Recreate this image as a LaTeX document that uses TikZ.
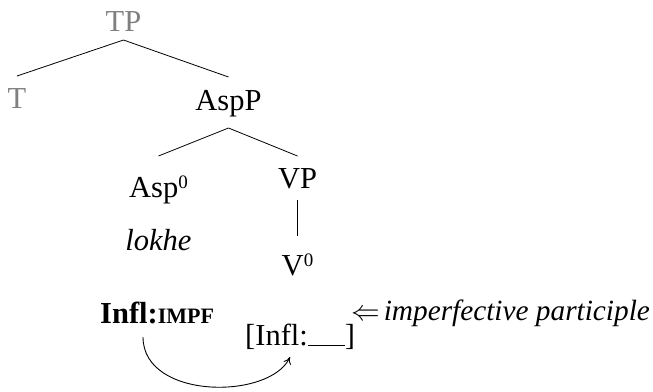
\documentclass[tikz,border=0pt]{standalone}
\usepackage{fontspec}
\setmainfont{Liberation Serif}
\usetikzlibrary{arrows.meta}
\definecolor{greytxt}{HTML}{808080}
\newcommand{\supzero}{\raisebox{9pt}{\fontsize{19}{22}\selectfont 0}}
\tikzset{
  lbl/.style={anchor=base, inner sep=0pt, font=\fontsize{30.5}{36}\selectfont},
  lblw/.style={anchor=base west, inner sep=0pt, font=\fontsize{30.5}{36}\selectfont},
  branch/.style={line width=0.8pt},
  movearrow/.style={line width=0.9pt, -{To[length=7pt,width=8pt]}}
}
\begin{document}
\begin{tikzpicture}[x=1pt,y=1pt]
\useasboundingbox (0,0) rectangle (653,-391);
% tree nodes
\node[lbl, text=greytxt] (TP) at (123.5,-31) {TP};
\node[lbl, text=greytxt] (T) at (17,-108) {T};
\node[lbl] (AspP) at (228.5,-110) {AspP};
\node[lbl] (Asp) at (158.5,-197) {Asp\supzero};
\node[lbl] (VP) at (297.5,-188) {VP};
\node[lbl] (lokhe) at (158.5,-250) {\itshape lokhe};
\node[lbl] (V) at (297.5,-275) {V\supzero};
% bottom texts
\node[lblw] (impf) at (100,-323) {\bfseries Infl:{\fontsize{22}{26}\selectfont IMPF}};
\node[lblw] (slot) at (245,-345) {[Infl:\rule[-1pt]{37pt}{0.9pt}]};
\node[lblw] (part) at (351,-320) {\scalebox{1.15}{$\Leftarrow$}\hspace{4pt}{\fontsize{29.3}{36}\selectfont\itshape imperfective participle}};
% branches
\draw[branch] ([yshift=-9pt]TP.base) -- ([yshift=32pt]T.base);
\draw[branch] ([yshift=-9pt]TP.base) -- ([yshift=33pt]AspP.base);
\draw[branch] ([yshift=-18pt]AspP.base) -- ([yshift=41pt]Asp.base);
\draw[branch] ([yshift=-18pt]AspP.base) -- ([yshift=32pt]VP.base);
\draw[branch] ([yshift=-12pt]VP.base) -- ([yshift=39pt]V.base);
% movement arrow
\draw[movearrow] ([xshift=43pt,yshift=-14pt]impf.base west) .. controls (143,-400) and (270,-400) .. ([xshift=45pt,yshift=-12pt]slot.base west);
\end{tikzpicture}
\end{document}
